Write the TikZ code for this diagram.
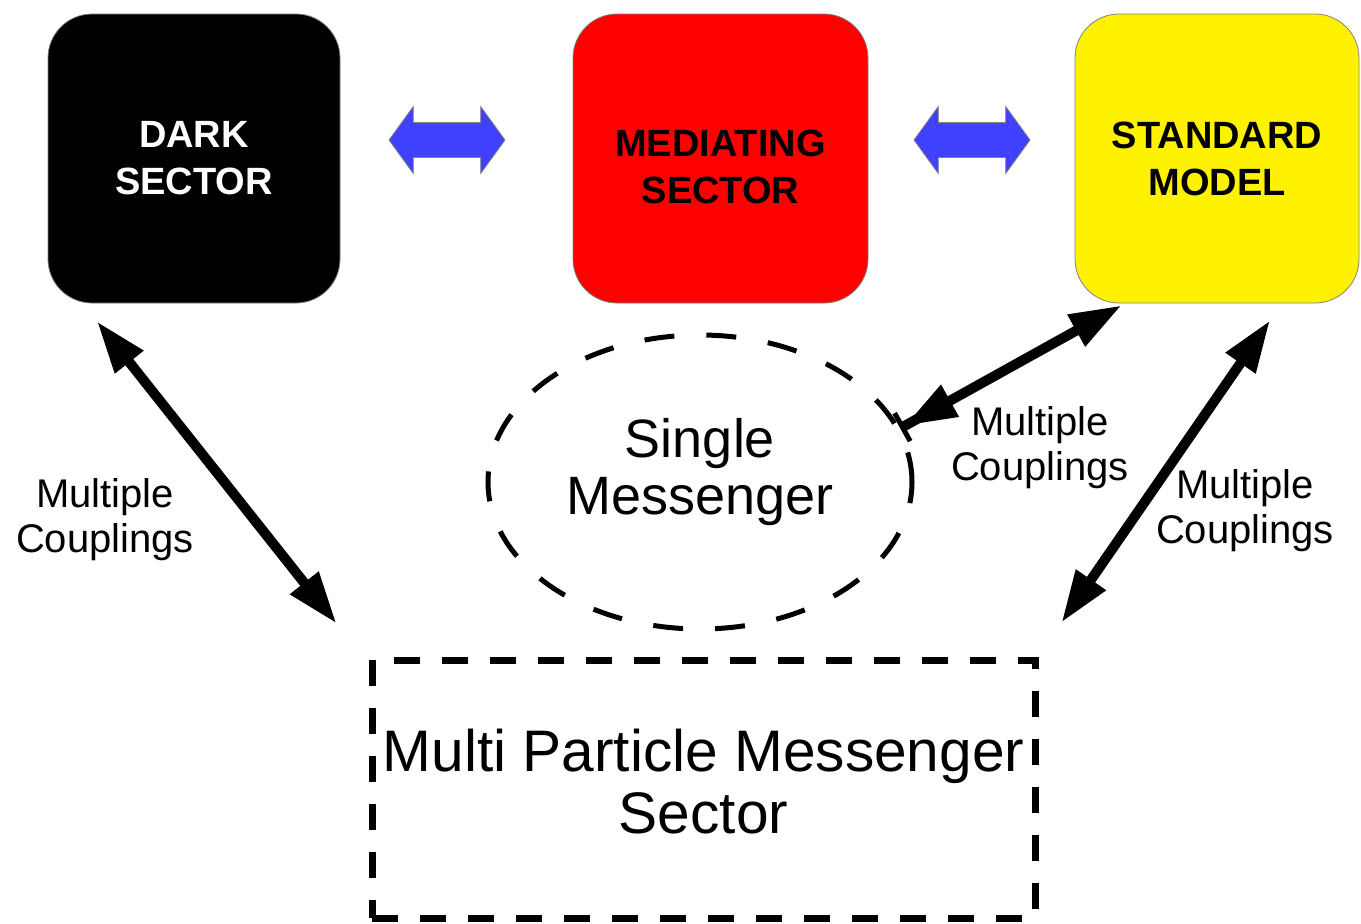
\documentclass[tikz,border=0pt]{standalone}
\usepackage{fontspec}
\setmainfont{Liberation Sans}
\usepackage{tikz}
\usetikzlibrary{positioning}
\usetikzlibrary{shapes.geometric, shapes.arrows, arrows.meta}
\definecolor{linkblue}{RGB}{64,64,255}
\tikzstyle{sector} = [draw=gray,rounded corners=22pt,minimum height=144.5pt,align=center,font=\bfseries\fontsize{19}{23.5}\selectfont]
\tikzstyle{link} = [double arrow,draw=gray,fill=linkblue,inner sep=8.5pt,minimum height=58pt,double arrow head extend=8pt,double arrow tip angle=108]
\tikzstyle{coupling} = [line width=5pt,{Triangle[length=26pt,width=17pt]}-{Triangle[length=26pt,width=17pt]}]
\tikzstyle{couplabel} = [align=center,font=\fontsize{20}{22.5}\selectfont]

\begin{document}
\begin{tikzpicture}[x=0.5pt,y=-0.5pt]
	\useasboundingbox (0,0) rectangle (1361,923);
	
	%Sectors
	\node (dark) [sector,fill=black,text=white,minimum width=146pt] at (194,158.5) {DARK\\SECTOR};
	\node (med) [sector,fill=red,minimum width=147.5pt,text height=45.5pt] at (720.5,158.5) {MEDIATING\\SECTOR};
	\node (sm) [sector,fill=yellow,minimum width=142pt] at (1217,158.5) {STANDARD\\MODEL};
	\node (ldark) [link] at (447,140) {};
	\node (lsm) [link] at (972,140) {};
	
	%Messengers
	\node (single) [ellipse,draw,line width=2.5pt,dash pattern=on 15pt off 16pt,minimum width=212pt,minimum height=147pt,align=center,text depth=16pt,font=\fontsize{27}{28.5}\selectfont] at (700,482) {Single\\Messenger};
	\node (multi) [draw,line width=3.5pt,dash pattern=on 13pt off 11pt,minimum width=331.5pt,minimum height=129pt,align=center,text depth=8pt,font=\fontsize{29.3}{31}\selectfont] at (703.5,789) {Multi Particle Messenger\\Sector};
	
	%Couplings
	\draw[coupling] ([xshift=-48.5pt,yshift=-9pt]dark.south) -- ([xshift=-16pt,yshift=16.5pt]multi.north west);
	\draw[coupling,{Bar[width=16pt,line width=2.5pt,sep=0pt]Triangle[length=26pt,width=17pt]}-{Triangle[length=26pt,width=17pt]}] (single.15.5) -- ([xshift=23.5pt,yshift=-1pt]sm.south west);
	\draw[coupling] ([xshift=26.5pt,yshift=-8.5pt]sm.south) -- ([xshift=11.5pt,yshift=17pt]multi.north east);
	
	%Labels
	\node (cdark) [couplabel] at (105,520) {Multiple\\Couplings};
	\node (csingle) [couplabel] at (1040,448) {Multiple\\Couplings};
	\node (csm) [couplabel] at (1245,511) {Multiple\\Couplings};
\end{tikzpicture}
\end{document}
